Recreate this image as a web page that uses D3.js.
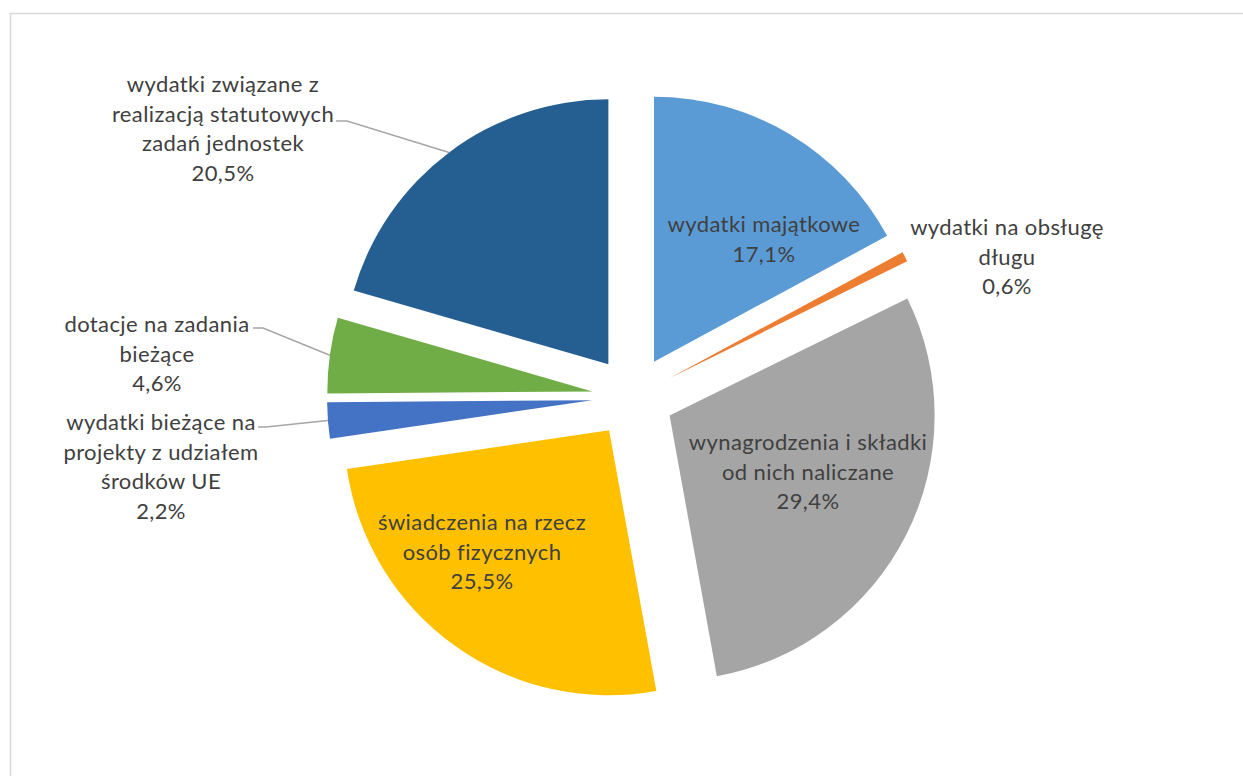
<!DOCTYPE html>
<html>
<head>
<meta charset="utf-8">
<script src="https://cdn.jsdelivr.net/npm/d3@7"></script>
<style>
  html, body { margin: 0; padding: 0; background: #fff; }
  svg { display: block; }
</style>
</head>
<body>
<svg id="chart" width="1243" height="776"></svg>
<script>
// ---- data ----
const categories = [
  "wydatki majątkowe",
  "wydatki na obsługę długu",
  "wynagrodzenia i składki od nich naliczane",
  "świadczenia na rzecz osób fizycznych",
  "wydatki bieżące na projekty z udziałem środków UE",
  "dotacje na zadania bieżące",
  "wydatki związane z realizacją statutowych zadań jednostek"
];
const values = [17.1, 0.6, 29.4, 25.5, 2.2, 4.6, 20.5];
const valueLabels = ["17,1%", "0,6%", "29,4%", "25,5%", "2,2%", "4,6%", "20,5%"];
// how each category name wraps in the label
const labelLines = [
  ["wydatki majątkowe"],
  ["wydatki na obsługę", "długu"],
  ["wynagrodzenia i składki", "od nich naliczane"],
  ["świadczenia na rzecz", "osób fizycznych"],
  ["wydatki bieżące na", "projekty z udziałem", "środków UE"],
  ["dotacje na zadania", "bieżące"],
  ["wydatki związane z", "realizacją statutowych", "zadań jednostek"]
];
const colors = ["#5B9BD5", "#ED7D31", "#A5A5A5", "#FFC000", "#4472C4", "#70AD47", "#255E91"];

// ---- layout ----
const cx = 633, cy = 397, R = 265, explode = 41;
const lineH = 29.5;
// label anchor: centre x, first baseline y; leader: [start point, elbow] or null
const labelLayout = [
  { x: 764, y: 232, leader: null },
  { x: 1007, y: 235, leader: null },
  { x: 808, y: 450, leader: null },
  { x: 482, y: 530, leader: null },
  { x: 161, y: 430, leader: [[258, 427], [266, 427]] },
  { x: 157, y: 332, leader: [[253, 328], [263, 328]] },
  { x: 223, y: 92,  leader: [[336, 121], [347, 121]] }
];

const svg = d3.select("#chart");

// chart border
svg.append("rect")
  .attr("x", 10.5).attr("y", 13.5)
  .attr("width", 1300).attr("height", 900)
  .attr("fill", "none").attr("stroke", "#d9d9d9").attr("stroke-width", 1.5);

const pie = d3.pie().sort(null).value(d => d).startAngle(0).endAngle(2 * Math.PI);
const arcs = pie(values);
const arc = d3.arc().innerRadius(0).outerRadius(R);

const g = svg.append("g").attr("transform", `translate(${cx},${cy})`);

function offsetOf(a) {
  const mid = (a.startAngle + a.endAngle) / 2;
  return [explode * Math.sin(mid), -explode * Math.cos(mid)];
}

g.selectAll("path.slice")
  .data(arcs)
  .join("path")
  .attr("class", "slice")
  .attr("d", arc)
  .attr("fill", (d, i) => colors[i])
  .attr("transform", d => { const o = offsetOf(d); return `translate(${o[0]},${o[1]})`; });

// leader lines
arcs.forEach((a, i) => {
  const L = labelLayout[i];
  if (!L.leader) return;
  const mid = (a.startAngle + a.endAngle) / 2;
  const o = offsetOf(a);
  const ex = cx + o[0] + R * Math.sin(mid);
  const ey = cy + o[1] - R * Math.cos(mid);
  const pts = L.leader.concat([[ex, ey]]);
  svg.append("path")
    .attr("d", d3.line()(pts))
    .attr("fill", "none")
    .attr("stroke", "#a6a6a6")
    .attr("stroke-width", 1.5);
});

// labels
arcs.forEach((a, i) => {
  const L = labelLayout[i];
  const lines = labelLines[i].concat([valueLabels[i]]);
  const t = svg.append("text")
    .attr("text-anchor", "middle")
    .attr("font-family", "Lato, 'Open Sans', sans-serif")
    .attr("font-size", 22)
    .attr("letter-spacing", 0.4)
    .attr("fill", "#404040");
  lines.forEach((ln, k) => {
    t.append("tspan").attr("x", L.x).attr("y", L.y + k * lineH).text(ln);
  });
});
</script>
</body>
</html>
